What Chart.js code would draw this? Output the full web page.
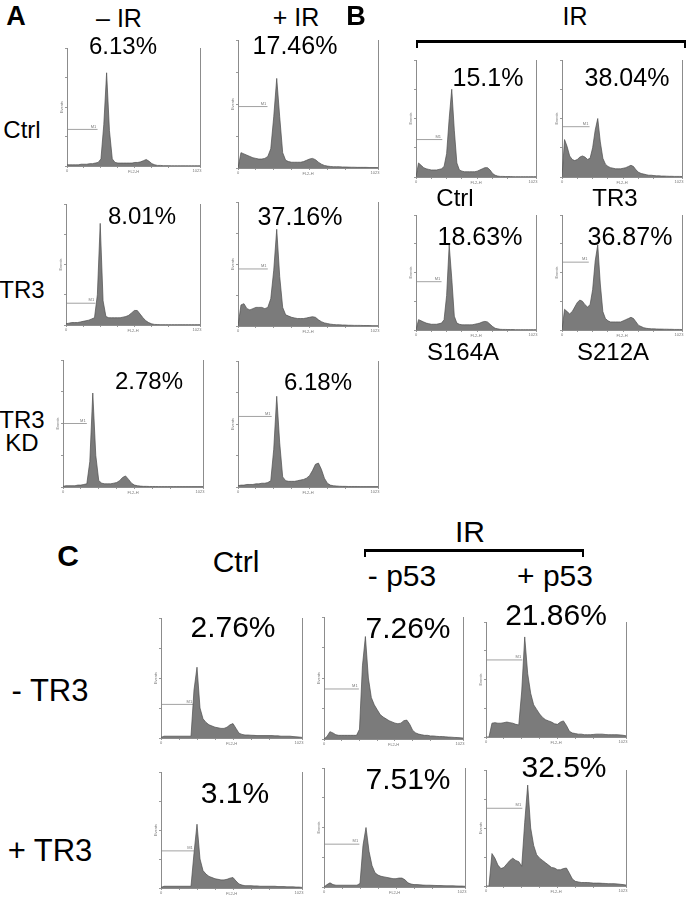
<!DOCTYPE html>
<html>
<head>
    <title>TR3 cell cycle histograms</title>
    <script src="https://cdn.jsdelivr.net/npm/chart.js"></script>
    <style>
        body {
            margin: 0;
            background: #ffffff;
            font-family: 'Liberation Sans', Arial, Helvetica, sans-serif;
        }
        #page {
            position: relative;
            width: 686px;
            height: 899px;
            overflow: hidden;
        }
        .panel { position: absolute; }
        .lbl {
            position: absolute;
            transform: translate(-50%, -50%);
            white-space: nowrap;
            color: #000;
            line-height: 1;
        }
        .brk {
            position: absolute;
            border-top: 3px solid #000;
            border-left: 2px solid #000;
            border-right: 2px solid #000;
            height: 5px;
        }
    </style>
</head>
<body>
<div id="page"></div>
<script>
// DNA content histograms, 48 bins each (relative cell counts, % of axis)
const histA_ctrl_minusIR = [1,1,1,1,1,1.5,1.5,1.5,2,2, 2.5,3,6,35,79,30,6,3,2.5,2.5, 2.5,2.5,2.5,2.5,3,3,3.5,4.5,5.5,4, 2,1,0.5,0.5,0.3,0.3,0.3,0.2,0.2,0.2, 0.2,0.2,0.2,0.2,0.2,0.2,0.2,0.2];
const histA_ctrl_plusIR = [0,12,11,10,9,8,7.5,7,7,7.5, 9,15,40,70,40,12,6,5,4.5,4.5, 4.5,4.5,5,6,7,7.5,6.5,4.5,3,2, 1.5,1.2,1,1,1,0.8,0.8,0.7,0.6,0.6, 0.5,0.5,0.5,0.5,0.4,0.4,0.4,0.3];
const histA_tr3_minusIR = [1,1.5,2,2,2,2.5,3,3.5,4,5, 6,25,84,20,7,6,6,6,6,6, 6.5,7,8,10,12,12,9,6,3.5,2, 1,0.5,0.4,0.3,0.3,0.3,0.3,0.3,0.3,0.3, 0.3,0.3,0.3,0.3,0.3,0.3,0.3,0.3];
const histA_tr3_plusIR = [0,17,18,14,13,14,15,15,15,14, 15,22,45,78,40,15,9,8,7,6.5, 6,6,6,6.5,7,7.5,7,5,3.5,2.5, 2,1.5,1.2,1,1,0.8,0.8,0.6,0.6,0.5, 0.5,0.5,0.4,0.4,0.4,0.3,0.3,0.3];
const histA_kd_minusIR = [0.5,1,1,1,1,1.5,1.5,2,2.5,20, 74,25,5,3,2.5,2.5,2.5,3,3.5,5, 7.5,8.7,6,3,1.5,1,0.7,0.5,0.5,0.4, 0.4,0.4,0.3,0.3,0.3,0.3,0.3,0.3,0.3,0.3, 0.3,0.3,0.3,0.3,0.3,0.3,0.3,0.3];
const histA_kd_plusIR = [1,1.5,1.5,2,2,2,2.5,2.5,3,3, 3.5,5,30,72,35,8,5,4.5,4.5,4.5, 5,5.5,6,7,9,13,18,19,14,7, 3,1.5,1,0.8,0.6,0.5,0.5,0.4,0.4,0.4, 0.4,0.3,0.3,0.3,0.3,0.3,0.3,0.3];

const histB_ctrl = [0,12,10,8,7,6.5,6,6,6,6.5, 7,9,20,50,75,40,12,6,5,4.5, 4.5,4.5,4.5,4.5,5,6,7,8,8,6, 3,1.5,0.8,0.5,0.5,0.4,0.4,0.4,0.3,0.3, 0.3,0.3,0.3,0.3,0.3,0.3,0.3,0.3];
const histB_tr3 = [0,32,26,18,15,14,15,17,18,17, 15,16,25,40,50,30,16,11,9,8, 7.5,7,7,7,7.5,8,9,10,9,6, 4,3,2.5,2,1.5,1.5,1.2,1,1,0.8, 0.8,0.7,0.6,0.6,0.5,0.5,0.5,0.4];
const histB_s164a = [0,9,8,7,6,5.5,5,5,5,5.5, 6,9,30,74,45,12,6,5,4.5,4.5, 4.5,4.5,4.5,5,5.5,6,7,7.5,7,5, 3,1.5,1,0.6,0.5,0.5,0.4,0.4,0.4,0.3, 0.3,0.3,0.3,0.3,0.3,0.3,0.3,0.3];
const histB_s212a = [0,18,16,14,16,20,24,26,25,22, 20,22,35,60,74,40,16,10,8,7, 7,7,7,7,8,9,10,11,10,7, 4,3,2,1.5,1.2,1,1,0.9,0.8,0.8, 0.7,0.7,0.6,0.6,0.5,0.5,0.5,0.4];

const histC_noTR3_ctrl = [0.5,1.5,1.5,1.5,1.5,1.5,1.5,1.5,1.5,1.5, 1.5,40,59,25,16,13,11,10,9,8.5, 8,8,9,11,12,8,4,3,2.5,2.5, 2.3,2.2,2,2,2,2,2,2,1.8,1.8, 1.5,1.5,1.5,1.5,1.2,1,0.8,0.5];
const histC_noTR3_noP53 = [0,2,6,5,3.5,3,3,3,3,3, 3,3,8,60,84,50,34,28,24,20, 18,16.5,15,14,13,12.5,13,15,15.5,12, 7,5,4,3.5,3,3,2.5,2.5,2.2,2, 2,1.8,1.6,1.5,1.3,1.2,1,0.8];
const histC_noTR3_p53 = [0,0,12,12.5,12,12,12.5,13,12.5,12, 11,10.5,40,87,55,38,28,24,20,17, 15,14,13,11.5,11,13,14,10,5,3.5, 3,2.5,2.5,2,2,2,2.2,2.5,2.5,2.5, 2.2,2,2,2,2,1.8,1.5,1];
const histC_TR3_ctrl = [0.5,1.5,1.5,1.5,1.5,1.5,1.5,1.5,1.5,1.5, 1.5,30,55,25,15,12,10,9,8,7.5, 7,7,7.5,8.5,9,6,3.5,2.5,2,2, 2,1.8,1.8,1.5,1.5,1.5,1.5,1.5,1.5,1.2, 1.2,1.2,1,1,1,0.8,0.8,0.5];
const histC_TR3_noP53 = [0,2,3.5,2,1.5,1.5,1.5,1.5,1.5,1.5, 1.5,1.5,3,35,50,30,18,12,10,9, 8.5,8,7.5,7,7,7.5,7.5,6,3.5,2.5, 2,2,1.8,1.6,1.5,1.5,1.4,1.3,1.2,1.2, 1.1,1,1,1,0.9,0.8,0.8,0.6];
const histC_TR3_p53 = [0,0,28,24,18,15,16,19,22,24, 22,21,17,55,87,50,35,27,24,22, 20,18,16,15.5,14,14,15,15.5,11,6, 4,3.5,3,3,3,2.8,2.5,2.5,2.5,2.3, 2.2,2,2,2,1.8,1.5,1.2,0.8];

// M1 gate marker: [level, end bin]
const gateA = [[31, 10.8], [48, 9.9], [18, 10.3], [46, 10], [50, 8], [56, 11.3]];
const gateB = [[32, 10.3], [43, 10.8], [42, 10], [59, 10.5]];
const gateC = [[28, 10.8], [41, 11.8], [67, 12.2], [32, 11], [36, 11.8], [67, 12.2]];

const sub_G1 = ['6.13%', '17.46%', '8.01%', '37.16%', '2.78%', '6.18%'];
const subB = ['15.1%', '38.04%', '18.63%', '36.87%'];
const subC = ['2.76%', '7.26%', '21.86%', '3.1%', '7.51%', '32.5%'];

const page = document.getElementById('page');

// panel axes boxes [left, top, right, bottom]
const panels = [
    { bins: histA_ctrl_minusIR, gate: gateA[0], rect: [67, 48, 200, 166] },
    { bins: histA_ctrl_plusIR,  gate: gateA[1], rect: [238, 40, 378, 168] },
    { bins: histA_tr3_minusIR,  gate: gateA[2], rect: [66, 204, 200, 325] },
    { bins: histA_tr3_plusIR,   gate: gateA[3], rect: [238, 202, 378, 326] },
    { bins: histA_kd_minusIR,   gate: gateA[4], rect: [63, 360, 203, 487] },
    { bins: histA_kd_plusIR,    gate: gateA[5], rect: [238, 361, 378, 487] },
    { bins: histB_ctrl,  gate: gateB[0], rect: [416, 60, 536, 177] },
    { bins: histB_tr3,   gate: gateB[1], rect: [562, 60, 682, 177] },
    { bins: histB_s164a, gate: gateB[2], rect: [416, 215, 536, 330] },
    { bins: histB_s212a, gate: gateB[3], rect: [562, 215, 682, 330] },
    { bins: histC_noTR3_ctrl,  gate: gateC[0], rect: [161, 618, 302, 738] },
    { bins: histC_noTR3_noP53, gate: gateC[1], rect: [324, 617, 463, 739] },
    { bins: histC_noTR3_p53,   gate: gateC[2], rect: [486, 622, 626, 737] },
    { bins: histC_TR3_ctrl,    gate: gateC[3], rect: [161, 772, 302, 888] },
    { bins: histC_TR3_noP53,   gate: gateC[4], rect: [324, 768, 465, 887] },
    { bins: histC_TR3_p53,     gate: gateC[5], rect: [486, 770, 626, 886] }
];

// tiny cytometer captions (M1, axis ends, axis names)
const tinyText = {
    id: 'tinyText',
    afterDraw(chart) {
        const ctx = chart.ctx;
        const xs = chart.scales.x, ys = chart.scales.y;
        const gate = chart.data.datasets[1].data;
        ctx.save();
        ctx.fillStyle = '#777';
        ctx.font = '4px "Liberation Sans", Arial';
        ctx.textAlign = 'center';
        ctx.textBaseline = 'bottom';
        ctx.fillText('M1', xs.getPixelForValue(gate[1].x) - 4, ys.getPixelForValue(gate[1].y) - 1);
        ctx.textBaseline = 'top';
        ctx.fillText('0', xs.left, xs.top + 3);
        ctx.fillText('1023', xs.right - 3, xs.top + 3);
        ctx.fillText('FL2-H', (xs.left + xs.right) / 2, xs.top + 4);
        ctx.translate(ys.right - 5, (ys.top + ys.bottom) / 2);
        ctx.rotate(-Math.PI / 2);
        ctx.textBaseline = 'middle';
        ctx.fillText('Events', 0, 0);
        ctx.restore();
    }
};

function makePanel(p) {
    const [L, T, R, B] = p.rect;
    const padL = 8, padB = 9, padT = 2, padR = 3;
    const box = document.createElement('div');
    box.className = 'panel';
    box.style.left = (L - padL) + 'px';
    box.style.top = (T - padT) + 'px';
    box.style.width = (R - L + padL + padR) + 'px';
    box.style.height = (B - T + padT + padB) + 'px';
    const cv = document.createElement('canvas');
    box.appendChild(cv);
    page.appendChild(box);
    const n = p.bins.length;
    new Chart(cv, {
        type: 'line',
        data: {
            datasets: [{
                data: p.bins.map((v, i) => ({ x: i, y: v })),
                fill: 'origin',
                backgroundColor: '#7b7b7b',
                borderColor: '#4d4d4d',
                borderWidth: 0.7,
                pointRadius: 0,
                tension: 0
            }, {
                data: [{ x: 0, y: p.gate[0] }, { x: p.gate[1], y: p.gate[0] }],
                borderColor: '#8a8a8a',
                borderWidth: 0.8,
                pointRadius: 0,
                fill: false
            }]
        },
        options: {
            responsive: true,
            maintainAspectRatio: false,
            animation: false,
            layout: { padding: { top: padT, right: padR, left: 0, bottom: 0 } },
            plugins: { legend: { display: false }, tooltip: { enabled: false } },
            scales: {
                x: {
                    type: 'linear', min: 0, max: n - 1,
                    ticks: { display: false, stepSize: 6 },
                    grid: { drawOnChartArea: false, tickLength: 2, color: '#9a9a9a' },
                    border: { color: '#8c8c8c' },
                    afterFit: s => { s.height = padB; }
                },
                y: {
                    min: 0, max: 100,
                    ticks: { display: false, stepSize: 25 },
                    grid: { drawOnChartArea: false, tickLength: 2, color: '#9a9a9a' },
                    border: { color: '#8c8c8c' },
                    afterFit: s => { s.width = padL; }
                },
                yR: {
                    position: 'right', min: 0, max: 100,
                    ticks: { display: false },
                    grid: { display: false },
                    border: { color: '#8c8c8c' },
                    afterFit: s => { s.width = 0; }
                }
            }
        },
        plugins: [tinyText]
    });
}

panels.forEach(makePanel);

// text: [text, x, y, size, bold]
const labels = [
    ['A', 16, 16, 27, true], ['– IR', 119, 18, 25], ['+ IR', 296, 17, 25],
    [sub_G1[0], 123, 46, 24], [sub_G1[1], 295, 45, 25],
    ['Ctrl', 22, 130, 24], [sub_G1[2], 142, 216, 24], [sub_G1[3], 300, 216, 25],
    ['TR3', 22, 290, 24], [sub_G1[4], 149, 381, 24], [sub_G1[5], 318, 382, 24],
    ['TR3', 22, 420, 24], ['KD', 22, 443, 24],
    ['B', 356, 16, 27, true], ['IR', 575, 16, 25],
    [subB[0], 488, 77, 25], [subB[1], 627, 77, 25],
    ['Ctrl', 455, 198, 24], ['TR3', 615, 198, 24],
    [subB[2], 480, 236, 25], [subB[3], 630, 236, 25],
    ['S164A', 463, 352, 24], ['S212A', 613, 352, 24],
    ['C', 68, 556, 30, true], ['Ctrl', 236, 562, 30], ['IR', 470, 532, 30],
    ['- p53', 402, 576, 30], ['+ p53', 555, 576, 30],
    [subC[0], 233, 627, 30], [subC[1], 408, 628, 30], [subC[2], 556, 615, 30],
    ['- TR3', 50, 690, 31],
    [subC[3], 235, 793, 30], [subC[4], 408, 779, 30], [subC[5], 564, 767, 30],
    ['+ TR3', 50, 850, 31]
];
labels.forEach(([t, x, y, size, bold]) => {
    const d = document.createElement('div');
    d.className = 'lbl';
    d.textContent = t;
    d.style.left = x + 'px';
    d.style.top = y + 'px';
    d.style.fontSize = size + 'px';
    if (bold) d.style.fontWeight = 'bold';
    page.appendChild(d);
});

// IR brackets
[[416, 40, 266], [364, 549, 216]].forEach(([x, y, w]) => {
    const b = document.createElement('div');
    b.className = 'brk';
    b.style.left = x + 'px';
    b.style.top = y + 'px';
    b.style.width = w + 'px';
    page.appendChild(b);
});
</script>
</body>
</html>
